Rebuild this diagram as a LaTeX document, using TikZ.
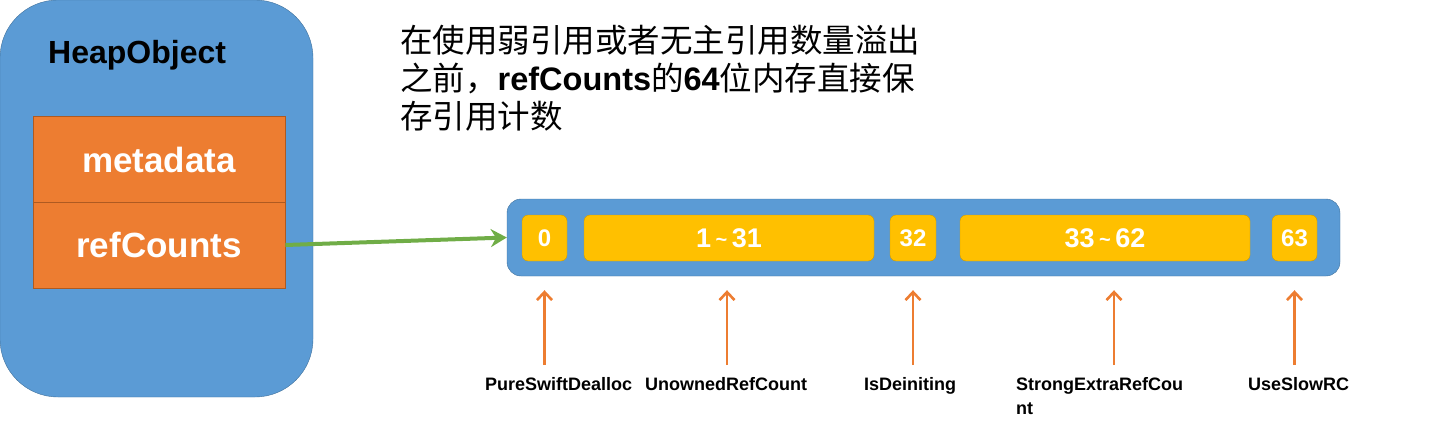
\documentclass[tikz,border=0pt]{standalone}
\usepackage{fontspec}
\setmainfont{Liberation Sans}
\newfontfamily\cjk{Noto Sans CJK SC}
\usetikzlibrary{arrows.meta}
\definecolor{heapblue}{HTML}{5B9BD5}
\definecolor{heapedge}{HTML}{41719C}
\definecolor{fieldorange}{HTML}{ED7D31}
\definecolor{fieldedge}{HTML}{AE5A21}
\definecolor{bityellow}{HTML}{FFC000}
\definecolor{bitedge}{HTML}{C99A06}
\definecolor{linkgreen}{HTML}{70AD47}
\newcommand{\bitrange}[2]{#1\,{\fontsize{20}{20}\selectfont\raisebox{1pt}{\textasciitilde}}\,#2}
\begin{document}
  \begin{tikzpicture}[x=1pt,y=-1pt,
      field/.style={draw=fieldedge,fill=fieldorange,line width=0.8pt,minimum width=252pt,
        text=white,font=\fontsize{35}{35}\selectfont\bfseries},
      bitbox/.style={draw=bitedge,fill=bityellow,rounded corners=6pt,minimum height=46pt,
        text=white,font=\fontsize{24}{24}\selectfont\bfseries},
      bitname/.style={anchor=north west,inner sep=0pt,align=left,
        font=\fontsize{18}{24}\selectfont\bfseries},
      bitarrow/.style={fieldorange,line width=2.6pt,-{Straight Barb[length=8pt,width=15pt]},
        shorten <=12pt,shorten >=29pt}]
    \useasboundingbox (0,0) rectangle (1451,423);
    \node[draw=heapedge,fill=heapblue,rounded corners=58pt,minimum width=313pt,minimum height=397pt] (heap) at (156.5,198.5) {};
    \node[anchor=base west,inner sep=0pt,font=\fontsize{32}{32}\selectfont\bfseries] (title) at (48,63) {HeapObject};
    \node[field,minimum height=87pt] (meta) at (159,160) {metadata};
    \node[field,minimum height=86pt] (refc) at (159,245) {refCounts};
    \node[anchor=north west,inner sep=0pt,align=left,font=\fontsize{32.5}{38}\selectfont\cjk] (note) at (400,25)
      {在使用弱引用或者无主引用数量溢出\\之前，{\rmfamily\bfseries refCounts}的{\rmfamily\bfseries 64}位内存直接保\\存引用计数};
    % the 64 bits of refCounts
    \node[draw=heapedge,fill=heapblue,rounded corners=14pt,minimum width=833pt,minimum height=77pt] (bar) at (923.5,237.5) {};
    \node[bitbox,minimum width=45pt] (b0) at (544.5,238) {0};
    \node[bitbox,minimum width=290pt,font=\fontsize{27}{27}\selectfont\bfseries] (b1) at (729,238) {\bitrange{1}{31}};
    \node[bitbox,minimum width=46pt] (b2) at (913,238) {32};
    \node[bitbox,minimum width=290pt,font=\fontsize{27}{27}\selectfont\bfseries] (b3) at (1105,238) {\bitrange{33}{62}};
    \node[bitbox,minimum width=45pt] (b4) at (1294.5,238) {63};
    \draw[linkgreen,line width=4pt,-{Stealth[length=16pt,width=18pt]}] (refc.east) -- (bar.west);
    \node[bitname] (l0) at (485,377) {PureSwiftDealloc};
    \node[bitname] (l1) at (645,377) {UnownedRefCount};
    \node[bitname] (l2) at (864,377) {IsDeiniting};
    \node[bitname] (l3) at (1016,377) {StrongExtraRefCou\\nt};
    \node[bitname] (l4) at (1248,377) {UseSlowRC};
    \foreach \b/\l/\dx in {b0/l0/0,b1/l1/-2,b2/l2/0,b3/l3/9,b4/l4/0}
      \draw[bitarrow] ([xshift=\dx pt]\l.north -| \b.south) -- ([xshift=\dx pt]\b.south);
  \end{tikzpicture}
\end{document}
